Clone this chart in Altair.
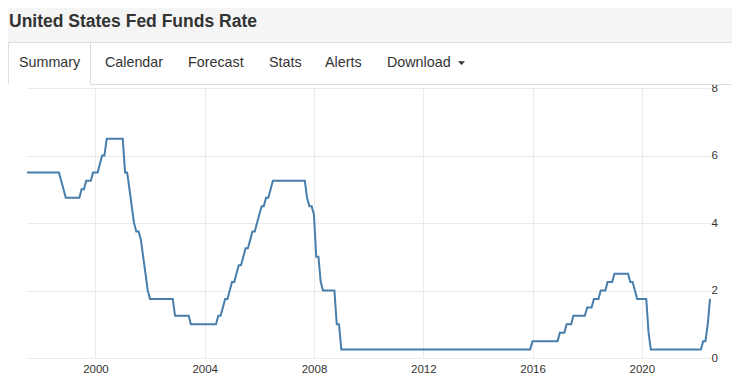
import altair as alt
import pandas as pd

# ---- data (month-end values) ----
months = [
    "1997-06", "1998-08", "1998-09", "1998-10", "1998-11", "1999-05", "1999-06", "1999-07",
    "1999-08", "1999-10", "1999-11", "2000-01", "2000-02", "2000-03", "2000-04", "2000-05",
    "2000-12", "2001-01", "2001-02", "2001-03", "2001-04", "2001-05", "2001-06", "2001-07",
    "2001-08", "2001-09", "2001-10", "2001-11", "2001-12", "2002-10", "2002-11", "2003-05",
    "2003-06", "2004-05", "2004-06", "2004-07", "2004-08", "2004-09", "2004-10", "2004-11",
    "2004-12", "2005-01", "2005-02", "2005-03", "2005-04", "2005-05", "2005-06", "2005-07",
    "2005-08", "2005-09", "2005-10", "2005-11", "2005-12", "2006-01", "2006-02", "2006-03",
    "2006-04", "2006-05", "2006-06", "2007-08", "2007-09", "2007-10", "2007-11", "2007-12",
    "2008-01", "2008-02", "2008-03", "2008-04", "2008-09", "2008-10", "2008-11", "2008-12",
    "2015-11", "2015-12", "2016-11", "2016-12", "2017-02", "2017-03", "2017-05", "2017-06",
    "2017-11", "2017-12", "2018-02", "2018-03", "2018-05", "2018-06", "2018-08", "2018-09",
    "2018-11", "2018-12", "2019-06", "2019-07", "2019-08", "2019-09", "2019-10", "2020-02",
    "2020-03", "2020-04", "2022-02", "2022-03", "2022-04", "2022-05", "2022-06",
]
rates = [
    5.5, 5.5, 5.25, 5.0, 4.75, 4.75, 5.0, 5.0,
    5.25, 5.25, 5.5, 5.5, 5.75, 6.0, 6.0, 6.5,
    6.5, 5.5, 5.5, 5.0, 4.5, 4.0, 3.75, 3.75,
    3.5, 3.0, 2.5, 2.0, 1.75, 1.75, 1.25, 1.25,
    1.0, 1.0, 1.25, 1.25, 1.5, 1.75, 1.75, 2.0,
    2.25, 2.25, 2.5, 2.75, 2.75, 3.0, 3.25, 3.25,
    3.5, 3.75, 3.75, 4.0, 4.25, 4.5, 4.5, 4.75,
    4.75, 5.0, 5.25, 5.25, 4.75, 4.5, 4.5, 4.25,
    3.0, 3.0, 2.25, 2.0, 2.0, 1.0, 1.0, 0.25,
    0.25, 0.5, 0.5, 0.75, 0.75, 1.0, 1.0, 1.25,
    1.25, 1.5, 1.5, 1.75, 1.75, 2.0, 2.0, 2.25,
    2.25, 2.5, 2.5, 2.25, 2.25, 2.0, 1.75, 1.75,
    0.75, 0.25, 0.25, 0.5, 0.5, 1.0, 1.75,
]

title_text = "United States Fed Funds Rate"
tab_labels = ["Summary", "Calendar", "Forecast", "Stats", "Alerts", "Download"]
year_ticks = [2000, 2004, 2008, 2012, 2016, 2020]
y_ticks = [0, 2, 4, 6, 8]

df = pd.DataFrame({
    "date": (pd.to_datetime(months) + pd.offsets.MonthEnd(0)).strftime("%Y-%m-%d"),
    "rate": rates,
})
one = pd.DataFrame({"k": [0]})

FONT = "Liberation Sans"
TXT = "#333333"

line = alt.Chart(df).mark_line(color="#477eac", strokeWidth=2).encode(
    x=alt.X(
        "date:T",
        scale=alt.Scale(nice=False),
        axis=alt.Axis(
            values=[alt.DateTime(year=y, month=1, date=1) for y in year_ticks],
            format="%Y", title=None, domain=False, ticks=False,
            labelPadding=5, labelFontSize=11.5, labelColor=TXT, labelFont=FONT,
            grid=True, gridColor="#d6d6d6", gridDash=[1, 1], zindex=0,
        ),
    ),
    y=alt.Y(
        "rate:Q",
        scale=alt.Scale(domain=[0, 8], nice=False),
        axis=alt.Axis(
            orient="right", values=y_ticks, title=None, domain=False, ticks=False,
            labelPadding=1, labelFontSize=11.5, labelColor=TXT, labelFont=FONT,
            labelAlign="left", labelBaseline="middle",
            grid=True, gridColor="#d6d6d6", gridDash=[1, 1], zindex=0,
        ),
    ),
)


def rect(x1, x2, y1, y2, color):
    return alt.Chart(one).mark_rect(color=color, strokeWidth=0).encode(
        x=alt.value(x1), x2=alt.value(x2), y=alt.value(y1), y2=alt.value(y2)
    )


def hrule(x1, x2, y, color):
    return alt.Chart(one).mark_rule(color=color, strokeWidth=1).encode(
        x=alt.value(x1), x2=alt.value(x2), y=alt.value(y), y2=alt.value(y)
    )


def vrule(x, y1, y2, color):
    return alt.Chart(one).mark_rule(color=color, strokeWidth=1).encode(
        x=alt.value(x), x2=alt.value(x), y=alt.value(y1), y2=alt.value(y2)
    )


def label(text, x, y, size, weight="normal"):
    return alt.Chart(one).mark_text(
        text=text, align="left", baseline="middle", font=FONT,
        fontSize=size, fontWeight=weight, color=TXT,
    ).encode(x=alt.value(x), y=alt.value(y))


decor = [
    rect(-27, 713, -88, -46, "#f5f5f5"),
    rect(-27, 713, -45, -3.5, "#ffffff"),
    hrule(-27, 713, -45.5, "#dddddd"),
    vrule(-18.5, -45.5, -4, "#dddddd"),
    vrule(63.5, -45.5, -4, "#dddddd"),
    hrule(63.5, 713, -3.5, "#dddddd"),
    label(title_text, -18, -66, 17.5, "bold"),
]
tab_x = [-8, 78, 161, 242, 298, 360]
for t, xx in zip(tab_labels, tab_x):
    decor.append(label(t, xx, -25.5, 14.3))

caret = alt.Chart(one).mark_point(
    shape="M-1,-0.5L1,-0.5L0,0.6Z", size=49, filled=True, color=TXT, opacity=1, strokeWidth=0
).encode(x=alt.value(434.5), y=alt.value(-25))
decor.append(caret)

chart = alt.layer(line, *decor).properties(
    width=683,
    height=270,
    padding={"left": 19, "top": 80, "right": 22, "bottom": 22},
    autosize=alt.AutoSizeParams(type="none"),
    background="#ffffff",
).configure_view(strokeWidth=0)

chart.save("out.html", embed_options={"renderer": "svg", "actions": False})
